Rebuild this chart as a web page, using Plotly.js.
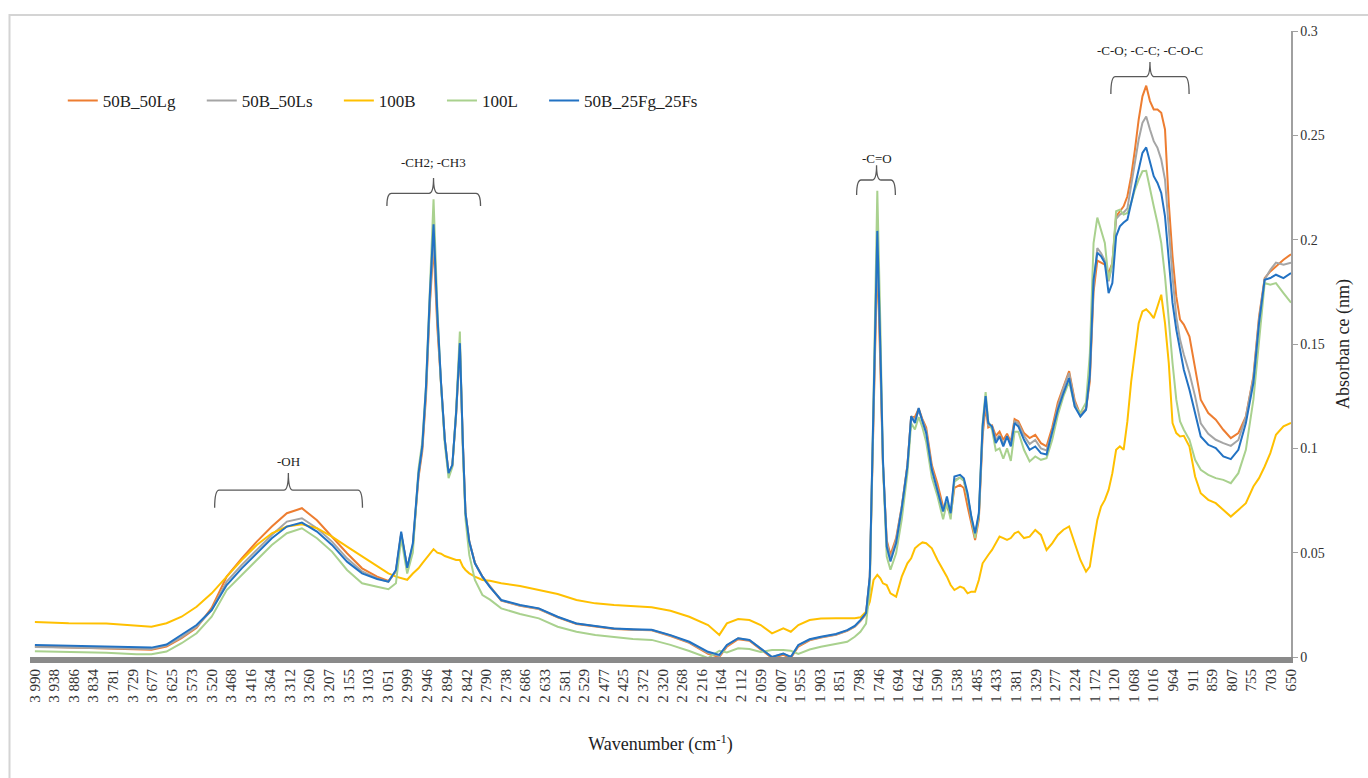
<!DOCTYPE html>
<html>
<head>
<meta charset="utf-8">
<script src="https://cdn.plot.ly/plotly-3.0.1.min.js"></script>
<style>html,body{margin:0;padding:0;background:#fff;}#chart{width:1368px;height:778px;}</style>
</head>
<body>
<div id="chart"></div>
<script>
// ---------- DATA ----------
const wavenumber = [
  3990,3900,3800,3720,3680,3640,3600,3560,3520,3480,3440,3400,3360,3320,3280,3240,3200,3160,3120,3080,3050,
  3030,3016,3000,2985,2970,2960,2950,2940,2930,2920,2910,2900,2890,2880,2870,2860,2852,2845,2835,2820,2800,2780,
  2750,2700,2650,2600,2550,2500,2450,2400,2350,2300,2250,2200,2170,2150,2120,2090,2060,2030,2000,1980,1960,1930,1900,1860,1830,1810,1795,
  1780,1770,1760,1750,1742,1735,1725,1715,1700,1685,1670,1660,1650,1640,1630,1620,1605,1590,1575,1565,1555,1545,1530,1520,1510,1500,1490,1480,
  1470,1462,1455,1445,1435,1425,1415,1405,1395,1385,1375,1360,1345,1330,1315,1300,1285,1270,1255,1240,1225,1210,1195,1185,
  1175,1165,1155,1145,1135,1125,1115,1105,1095,1085,1075,1065,1055,1045,1035,1025,1015,1005,995,985,975,965,955,945,935,920,905,890,870,850,830,810,790,770,750,735,720,705,690,670,650
];

const s50B_50Lg = [
  .0050,.0045,.0040,.0035,.0035,.0050,.0090,.0140,.0235,.0385,.0473,.0553,.0625,.0689,.0713,.0655,.0577,.0497,.0425,.0385,.0364,
  .0410,.0590,.0430,.0530,.0860,.0985,.1250,.1680,.1976,.1580,.1300,.1040,.0880,.0915,.1160,.1490,.1020,.0690,.0555,.0452,.0385,.0338,
  .0270,.0246,.0230,.0190,.0158,.0146,.0134,.0130,.0128,.0100,.0068,.0015,.0000,.0050,.0085,.0078,.0035,-.0005,.0010,-.0005,.0050,.0080,.0093,.0106,.0125,.0145,.0172,
  .0205,.0380,.1120,.1920,.1400,.0920,.0560,.0490,.0570,.0720,.0920,.1150,.1150,.1190,.1140,.1100,.0920,.0830,.0720,.0720,.0680,.0810,.0825,.0810,.0721,.0640,.0560,.0660,
  .1060,.1200,.1100,.1110,.1060,.1080,.1040,.1070,.1030,.1140,.1130,.1073,.1049,.1065,.1025,.1010,.1100,.1220,.1300,.1370,.1230,.1160,.1190,.1320,
  .1750,.1900,.1890,.1880,.1840,.1888,.2112,.2136,.2160,.2208,.2304,.2432,.2576,.2687,.2738,.2664,.2624,.2624,.2608,.2528,.2176,.1920,.1728,.1617,.1593,.1536,.1393,.1233,.1169,.1137,.1089,.1049,.1073,.1153,.1345,.1630,.1816,.1848,.1872,.1904,.1930
];

const s50B_50Ls = [
  .0048,.0045,.0042,.0038,.0038,.0055,.0095,.0145,.0225,.0361,.0441,.0513,.0585,.0649,.0665,.0617,.0553,.0473,.0410,.0377,.0360,
  .0410,.0590,.0428,.0535,.0870,.1000,.1270,.1700,.2020,.1620,.1305,.1040,.0880,.0918,.1165,.1500,.1022,.0690,.0553,.0450,.0383,.0336,
  .0271,.0247,.0231,.0191,.0160,.0148,.0136,.0131,.0129,.0103,.0070,.0020,.0005,.0055,.0090,.0080,.0040,.0000,.0015,.0000,.0055,.0083,.0095,.0108,.0127,.0147,.0175,
  .0207,.0382,.1150,.1980,.1450,.0930,.0550,.0470,.0560,.0720,.0915,.1155,.1135,.1180,.1135,.1085,.0905,.0810,.0705,.0740,.0685,.0850,.0860,.0845,.0770,.0665,.0585,.0680,
  .1080,.1230,.1110,.1105,.1040,.1065,.1020,.1060,.1020,.1130,.1120,.1060,.1020,.1040,.1000,.0990,.1080,.1200,.1290,.1360,.1220,.1155,.1190,.1340,
  .1780,.1960,.1935,.1900,.1800,.1880,.2100,.2120,.2130,.2150,.2256,.2368,.2480,.2560,.2590,.2528,.2472,.2440,.2384,.2288,.2048,.1824,.1630,.1521,.1450,.1360,.1249,.1120,.1070,.1041,.1025,.1012,.1040,.1150,.1337,.1620,.1810,.1856,.1890,.1880,.1890
];

const s100B = [
  .0168,.0162,.0160,.0148,.0145,.0162,.0193,.0241,.0305,.0385,.0465,.0537,.0593,.0625,.0636,.0617,.0577,.0529,.0481,.0433,.0401,
  .0385,.0377,.0370,.0400,.0425,.0449,.0473,.0497,.0517,.0500,.0495,.0484,.0477,.0470,.0465,.0465,.0433,.0417,.0401,.0385,.0369,.0365,
  .0353,.0340,.0321,.0302,.0273,.0257,.0249,.0245,.0238,.0222,.0193,.0153,.0106,.0161,.0182,.0177,.0153,.0113,.0137,.0121,.0153,.0177,.0184,.0186,.0186,.0186,.0190,
  .0217,.0265,.0369,.0394,.0377,.0353,.0345,.0305,.0289,.0385,.0449,.0473,.0521,.0537,.0549,.0545,.0521,.0465,.0417,.0385,.0345,.0321,.0337,.0330,.0305,.0313,.0313,.0369,
  .0449,.0473,.0489,.0513,.0545,.0577,.0570,.0561,.0570,.0593,.0601,.0570,.0577,.0609,.0585,.0513,.0545,.0585,.0610,.0626,.0545,.0465,.0409,.0433,
  .0550,.0657,.0721,.0753,.0801,.0881,.0993,.1010,.0993,.1130,.1320,.1470,.1600,.1656,.1666,.1648,.1624,.1680,.1736,.1600,.1409,.1121,.1073,.1057,.1060,.1009,.0865,.0785,.0753,.0737,.0705,.0673,.0705,.0737,.0817,.0857,.0913,.0977,.1065,.1105,.1122
];

const s100L = [
  .0027,.0025,.0020,.0013,.0013,.0026,.0066,.0114,.0193,.0321,.0393,.0465,.0537,.0593,.0617,.0569,.0505,.0417,.0353,.0337,.0325,
  .0353,.0570,.0400,.0500,.0900,.1030,.1300,.1760,.2194,.1680,.1300,.1020,.0857,.0910,.1180,.1560,.0980,.0660,.0489,.0369,.0297,.0275,
  .0233,.0206,.0185,.0145,.0121,.0105,.0094,.0086,.0082,.0058,.0029,-.0005,.0030,.0022,.0042,.0038,.0024,.0034,.0034,.0030,.0015,.0036,.0049,.0062,.0073,.0097,.0121,
  .0160,.0320,.1250,.2234,.1600,.0920,.0481,.0418,.0497,.0660,.0880,.1120,.1090,.1150,.1100,.1030,.0860,.0770,.0660,.0740,.0660,.0840,.0860,.0845,.0770,.0660,.0570,.0680,
  .1120,.1270,.1130,.1090,.0990,.1000,.0950,.1000,.0940,.1080,.1080,.0993,.0937,.0961,.0945,.0953,.1040,.1160,.1250,.1320,.1200,.1170,.1220,.1450,
  .1984,.2106,.2047,.1984,.1808,.1888,.2136,.2144,.2120,.2128,.2176,.2240,.2288,.2328,.2330,.2240,.2160,.2080,.1984,.1824,.1600,.1409,.1233,.1129,.1089,.1041,.0945,.0897,.0873,.0857,.0849,.0833,.0881,.0993,.1233,.1520,.1792,.1784,.1792,.1744,.1698
];

const s50B_25Fg_25Fs = [
  .0058,.0054,.0050,.0045,.0045,.0060,.0105,.0153,.0225,.0345,.0425,.0497,.0569,.0625,.0644,.0601,.0537,.0457,.0401,.0374,.0361,
  .0417,.0601,.0427,.0545,.0880,.1009,.1296,.1728,.2074,.1648,.1313,.1041,.0881,.0921,.1169,.1504,.1025,.0689,.0553,.0449,.0385,.0335,
  .0273,.0249,.0233,.0193,.0161,.0149,.0137,.0133,.0130,.0105,.0073,.0025,.0010,.0058,.0090,.0082,.0042,.0000,.0017,.0000,.0058,.0085,.0097,.0110,.0129,.0149,.0177,
  .0210,.0385,.1185,.2042,.1488,.0945,.0529,.0458,.0545,.0713,.0913,.1153,.1121,.1193,.1129,.1073,.0897,.0801,.0697,.0769,.0689,.0865,.0873,.0857,.0785,.0673,.0593,.0689,
  .1105,.1250,.1121,.1105,.1025,.1057,.1009,.1057,.1009,.1121,.1105,.1041,.0993,.1009,.0977,.0970,.1073,.1185,.1265,.1337,.1200,.1153,.1185,.1350,
  .1808,.1938,.1920,.1888,.1744,.1792,.2016,.2064,.2082,.2096,.2176,.2256,.2336,.2416,.2442,.2368,.2304,.2272,.2224,.2112,.1920,.1697,.1569,.1473,.1377,.1281,.1169,.1057,.1017,.1001,.0961,.0948,.0993,.1121,.1313,.1600,.1808,.1816,.1832,.1816,.1840
];

const seriesNames = ['50B_50Lg','50B_50Ls','100B','100L','50B_25Fg_25Fs'];
const seriesValues = [s50B_50Lg, s50B_50Ls, s100B, s100L, s50B_25Fg_25Fs];
const seriesColors = ['#ED7D31','#A5A5A5','#FFC000','#A9D18E','#2272C3'];

const tickValues = [3990,3938,3886,3834,3781,3729,3677,3625,3573,3520,3468,3416,3364,3312,3260,3207,3155,3103,3051,2999,2946,2894,2842,2790,2738,2686,2633,2581,2529,2477,2425,2372,2320,2268,2216,2164,2112,2059,2007,1955,1903,1851,1798,1746,1694,1642,1590,1538,1485,1433,1381,1329,1277,1224,1172,1120,1068,1016,964,911,859,807,755,703,650];
const tickLabels = ['3 990','3 938','3 886','3 834','3 781','3 729','3 677','3 625','3 573','3 520','3 468','3 416','3 364','3 312','3 260','3 207','3 155','3 103','3 051','2 999','2 946','2 894','2 842','2 790','2 738','2 686','2 633','2 581','2 529','2 477','2 425','2 372','2 320','2 268','2 216','2 164','2 112','2 059','2 007','1 955','1 903','1 851','1 798','1 746','1 694','1 642','1 590','1 538','1 485','1 433','1 381','1 329','1 277','1 224','1 172','1 120','1 068','1 016','964','911','859','807','755','703','650'];

// band brackets: label, left/centre/right wavenumber, bar / end / tip / label absorbance
const bandLabels = ['-OH','-CH2; -CH3','-C=O','-C-O; -C-C; -C-O-C'];
const bandLeft   = [3512, 3054, 1805, 1129];
const bandCenter = [3316, 2930, 1752, 1025];
const bandRight  = [3119, 2805, 1702, 921];
const bandBar    = [0.0800, 0.2222, 0.2286, 0.2781];
const bandEnd    = [0.0715, 0.2161, 0.2214, 0.2698];
const bandTip    = [0.0882, 0.2295, 0.2357, 0.2852];
const bandText   = [0.0936, 0.2372, 0.2391, 0.2905];

// ---------- CHART ----------
const FONT = 'Liberation Serif, Times New Roman, serif';
const pad = '\u00a0\u00a0\u00a0\u00a0\u00a0';

const traces = seriesNames.map((n, i) => ({
  type: 'scatter', mode: 'lines',
  x: wavenumber, y: seriesValues[i],
  name: i < seriesNames.length - 1 ? n + pad : n,
  line: {color: seriesColors[i], width: 2},
  hoverinfo: 'x+y+name'
}));

const shapes = [];
const annotations = [];
bandLabels.forEach((t, i) => {
  const x0 = bandLeft[i], x1 = bandRight[i], xc = bandCenter[i];
  const yb = bandBar[i], ye = bandEnd[i], yt = bandTip[i];
  const d = 12;
  const path = `M ${x0},${ye} Q ${x0},${yb} ${x0 - d},${yb} L ${xc + d},${yb} Q ${xc},${yb} ${xc},${yt} ` +
               `Q ${xc},${yb} ${xc - d},${yb} L ${x1 + d},${yb} Q ${x1},${yb} ${x1},${ye}`;
  shapes.push({type: 'path', xref: 'x', yref: 'y', path: path,
               line: {color: '#595959', width: 1.3}, layer: 'above'});
  annotations.push({xref: 'x', yref: 'y', x: xc, y: bandText[i], text: t, showarrow: false,
                    font: {family: FONT, size: 13, color: '#222'}, xanchor: 'center', yanchor: 'middle'});
});

// outer light frame
const L = 30, R = 77, T = 31, B = 121, W = 1368, H = 778;
const pw = W - L - R, ph = H - T - B;
shapes.push({type: 'rect', xref: 'paper', yref: 'paper', layer: 'below',
  x0: (9.5 - L) / pw, x1: (W + 5 - L) / pw, y0: -(H + 5 - (H - B)) / ph, y1: ((H - B) - 15) / ph,
  line: {color: '#d4d4d4', width: 2}, fillcolor: 'rgba(0,0,0,0)'});

const layout = {
  width: W, height: H,
  margin: {l: L, r: R, t: T, b: B, pad: 0},
  paper_bgcolor: '#ffffff', plot_bgcolor: '#ffffff',
  font: {family: FONT, color: '#333'},
  showlegend: true,
  legend: {orientation: 'h', x: 0.026, y: (H - B - 101) / ph, xanchor: 'left', yanchor: 'middle',
           font: {family: FONT, size: 17, color: '#222'}, bgcolor: 'rgba(0,0,0,0)'},
  xaxis: {
    range: [4003, 650], tickmode: 'array', tickvals: tickValues, ticktext: tickLabels,
    tickangle: -90, tickfont: {family: FONT, size: 15, color: '#333'},
    showline: true, linecolor: '#8a8a8a', linewidth: 6, ticks: '', showgrid: false, zeroline: false,
    title: {text: 'Wavenumber (cm<sup>-1</sup>)', font: {family: FONT, size: 18, color: '#222'}, standoff: 38}
  },
  yaxis: {
    side: 'right', range: [0, 0.3], dtick: 0.05, tick0: 0,
    tickfont: {family: FONT, size: 14, color: '#333'},
    showline: true, linecolor: '#a0a0a0', linewidth: 1.5, ticks: 'outside', ticklen: 5, tickcolor: '#a0a0a0',
    showgrid: false, zeroline: false,
    title: {text: 'Absorban ce (nm)', font: {family: FONT, size: 18, color: '#222'}, standoff: 12}
  },
  shapes: shapes, annotations: annotations
};

Plotly.newPlot('chart', traces, layout, {displayModeBar: false, staticPlot: true});
</script>
</body>
</html>
